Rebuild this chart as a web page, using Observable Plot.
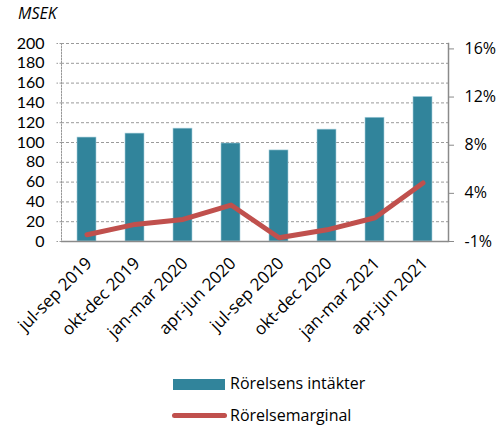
<!DOCTYPE html>
<html><head><meta charset="utf-8">
<script src="https://cdn.jsdelivr.net/npm/d3@7"></script>
<script src="https://cdn.jsdelivr.net/npm/@observablehq/plot@0.6"></script>
<style>
body{margin:0;background:#fff;font-family:"Open Sans",sans-serif;}
#wrap{position:relative;width:504px;height:428px;overflow:hidden;}
#wrap svg{position:absolute;left:0;top:0;}
.lbl{position:absolute;font-size:16px;line-height:16px;color:#000;white-space:nowrap;}
.sw{position:absolute;}
</style></head><body><div id="wrap"></div>
<script>
const categories = ["jul-sep 2019","okt-dec 2019","jan-mar 2020","apr-jun 2020","jul-sep 2020","okt-dec 2020","jan-mar 2021","apr-jun 2021"];
const revenue = [105,109,114,99,92,113,125,146];           // MSEK
const marginPct = [0.56,1.42,1.83,3.03,0.31,0.97,1.97,4.86]; // %
const seriesNames = ["Rörelsens intäkter","Rörelsemarginal"];
const unitLabel = "MSEK";
const leftTicks = d3.range(0,201,20);
const rightTicks = [0,4,8,12,16];
const rightTickLabels = ["-1%","4%","8%","12%","16%"];
const rightMax = 16.45;
const toLeft = p => p*200/rightMax;

const data = categories.map((c,i)=>({c, revenue: revenue[i], m: toLeft(marginPct[i])}));
const colBar = "#31849B", colLine = "#C0504D";

const chart = Plot.plot({
  width:504, height:300, marginLeft:61, marginRight:56, marginTop:43, marginBottom:59,
  style:{fontFamily:"'Open Sans', sans-serif", fontSize:"16px", color:"#000", background:"transparent", overflow:"visible"},
  x:{domain:categories, paddingInner:0.6, paddingOuter:0.3},
  y:{domain:[0,200]},
  marks:[
    Plot.gridY(leftTicks.slice(1), {stroke:"#9a9a9a", strokeOpacity:1, strokeDasharray:"3,2"}),
    Plot.barY(data,{x:"c", y:"revenue", fill:colBar, stroke:"#a8d0dc", strokeWidth:0.6}),
    Plot.ruleY([0],{stroke:"#8a8a8a", strokeWidth:1.5}),
    Plot.frame({anchor:"left", stroke:"#999", strokeDasharray:"1.5,1.5"}),
    Plot.frame({anchor:"right", stroke:"#8a8a8a", strokeWidth:1.5}),
    Plot.axisY(leftTicks, {anchor:"left", tickSize:5, tickPadding:12, stroke:"#999", strokeDasharray:"1.5,1.5", label:null, fill:"#000",
      fontFamily:"Lato, sans-serif", fontSize:16}),
    Plot.axisY(rightTicks.map(toLeft), {anchor:"right", tickSize:5, tickPadding:11, stroke:"#8a8a8a", label:null, fill:"#000",
      tickFormat:d => rightTickLabels[rightTicks.findIndex(t => Math.abs(toLeft(t)-d) < 1e-6)]}),
    Plot.axisX({tickRotate:-45, tickSize:0, tickPadding:19, dx:2, label:null, fill:"#000", fontSize:17}),
    Plot.line(data,{x:"c", y:"m", stroke:colLine, strokeWidth:5, strokeLinejoin:"round", strokeLinecap:"round"})
  ]
});
const wrap = document.getElementById("wrap");
wrap.appendChild(chart);

function addLabel(text, left, top, extra){
  const d = document.createElement("div");
  d.className = "lbl"; d.textContent = text;
  d.style.left = left+"px"; d.style.top = top+"px";
  if (extra) Object.assign(d.style, extra);
  wrap.appendChild(d);
}
addLabel(unitLabel, 18, 5, {fontStyle:"italic"});
// legend
const sw1 = document.createElement("div"); sw1.className="sw";
Object.assign(sw1.style,{left:"173px",top:"379px",width:"52px",height:"11px",background:colBar});
wrap.appendChild(sw1);
const sw2 = document.createElement("div"); sw2.className="sw";
Object.assign(sw2.style,{left:"172px",top:"413px",width:"55px",height:"5px",background:colLine,borderRadius:"2.5px"});
wrap.appendChild(sw2);
addLabel(seriesNames[0], 230, 375);
addLabel(seriesNames[1], 230, 407);
</script></body></html>
